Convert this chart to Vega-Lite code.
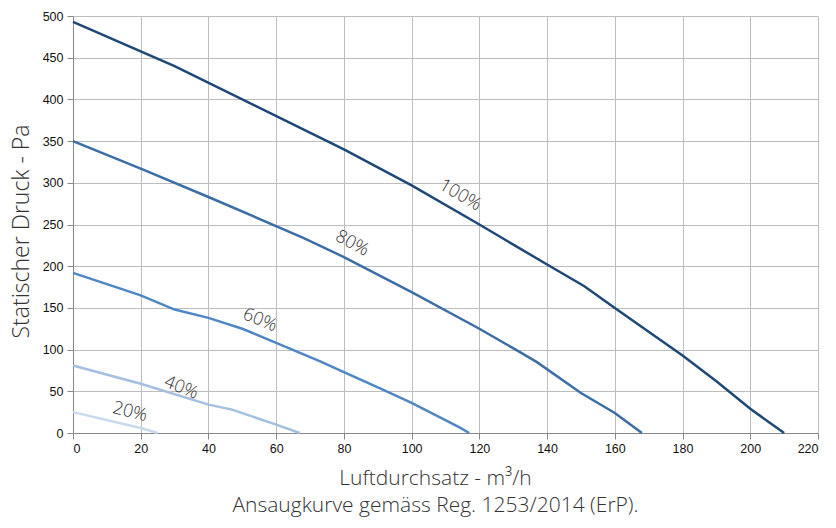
{
  "$schema": "https://vega.github.io/schema/vega-lite/v6.json",
  "width": 745,
  "height": 417,
  "autosize": "none",
  "padding": {"left": 73, "top": 16, "right": 18, "bottom": 95},
  "background": "white",
  "config": {"view": {"stroke": null}},
  "datasets": {
    "curves": [
      {"series": "100%", "x": 0, "y": 493},
      {"series": "100%", "x": 30, "y": 440},
      {"series": "100%", "x": 80, "y": 340},
      {"series": "100%", "x": 100, "y": 297},
      {"series": "100%", "x": 120, "y": 250},
      {"series": "100%", "x": 140, "y": 202},
      {"series": "100%", "x": 151, "y": 176},
      {"series": "100%", "x": 160, "y": 150},
      {"series": "100%", "x": 180, "y": 93},
      {"series": "100%", "x": 190, "y": 62},
      {"series": "100%", "x": 200, "y": 29},
      {"series": "100%", "x": 210, "y": 0},
      {"series": "80%", "x": 0, "y": 350},
      {"series": "80%", "x": 20, "y": 317},
      {"series": "80%", "x": 40, "y": 283},
      {"series": "80%", "x": 68, "y": 234},
      {"series": "80%", "x": 80, "y": 211},
      {"series": "80%", "x": 100, "y": 169},
      {"series": "80%", "x": 120, "y": 125},
      {"series": "80%", "x": 132, "y": 97},
      {"series": "80%", "x": 137, "y": 85},
      {"series": "80%", "x": 150, "y": 48},
      {"series": "80%", "x": 160, "y": 24},
      {"series": "80%", "x": 168, "y": 0},
      {"series": "60%", "x": 0, "y": 192},
      {"series": "60%", "x": 20, "y": 165},
      {"series": "60%", "x": 30, "y": 148},
      {"series": "60%", "x": 40, "y": 138},
      {"series": "60%", "x": 50, "y": 125},
      {"series": "60%", "x": 60, "y": 108},
      {"series": "60%", "x": 73, "y": 86},
      {"series": "60%", "x": 80, "y": 73},
      {"series": "60%", "x": 91, "y": 53},
      {"series": "60%", "x": 100, "y": 36},
      {"series": "60%", "x": 114, "y": 7},
      {"series": "60%", "x": 117, "y": 0},
      {"series": "40%", "x": 0, "y": 81},
      {"series": "40%", "x": 20, "y": 59},
      {"series": "40%", "x": 40, "y": 34},
      {"series": "40%", "x": 47, "y": 28},
      {"series": "40%", "x": 60, "y": 10},
      {"series": "40%", "x": 67, "y": 0},
      {"series": "20%", "x": 0, "y": 25},
      {"series": "20%", "x": 20, "y": 6},
      {"series": "20%", "x": 25, "y": 0}
    ],
    "labels": [
      {"label": "100%", "x": 114.3, "y": 285},
      {"label": "80%", "x": 82.4, "y": 227},
      {"label": "60%", "x": 55.2, "y": 135},
      {"label": "40%", "x": 31.9, "y": 54},
      {"label": "20%", "x": 16.8, "y": 25}
    ]
  },
  "encoding": {
    "x": {
      "field": "x", "type": "quantitative",
      "scale": {"domain": [0, 220], "nice": false, "zero": false},
      "axis": {
        "values": [0, 20, 40, 60, 80, 100, 120, 140, 160, 180, 200, 220],
        "grid": true, "gridColor": "#bdbdbd", "gridWidth": 1,
        "domainColor": "#888888", "tickColor": "#888888", "tickSize": 6,
        "labelFont": "Liberation Sans", "labelFontSize": 12.5, "labelColor": "#111111", "labelPadding": 3,
        "title": ["Luftdurchsatz - m³/h", "Ansaugkurve gemäss Reg. 1253/2014 (ErP)."],
        "titleFont": "Open Sans", "titleFontWeight": 300, "titleFontSize": 21, "titleColor": "#333333",
        "titleLineHeight": 27, "titlePadding": 13, "titleX": 362
      }
    },
    "y": {
      "field": "y", "type": "quantitative",
      "scale": {"domain": [0, 500], "nice": false},
      "axis": {
        "values": [0, 50, 100, 150, 200, 250, 300, 350, 400, 450, 500],
        "grid": true, "gridColor": "#bdbdbd", "gridWidth": 1,
        "domainColor": "#888888", "tickColor": "#888888", "tickSize": 6,
        "labelFont": "Liberation Sans", "labelFontSize": 12.5, "labelColor": "#111111", "labelPadding": 4,
        "title": "Statischer Druck - Pa",
        "titleFont": "Open Sans", "titleFontWeight": 300, "titleFontSize": 23, "titleColor": "#333333",
        "titlePadding": 9, "titleY": 215
      }
    }
  },
  "layer": [
    {
      "data": {"name": "curves"},
      "mark": {"type": "line", "strokeWidth": 2.5},
      "encoding": {
        "color": {
          "field": "series", "type": "nominal", "legend": null,
          "scale": {"domain": ["100%", "80%", "60%", "40%", "20%"], "range": ["#1d4877", "#3b6ea6", "#4f87c6", "#a3bfe1", "#c8d9ef"]}
        },
        "detail": {"field": "series"}
      }
    },
    {
      "data": {"name": "labels"},
      "transform": [{"filter": "datum.label === '100%'"}],
      "mark": {"type": "text", "angle": 30, "font": "Open Sans", "fontWeight": 300, "fontSize": 18, "color": "#333333"},
      "encoding": {"text": {"field": "label"}}
    },
    {
      "data": {"name": "labels"},
      "transform": [{"filter": "datum.label === '80%'"}],
      "mark": {"type": "text", "angle": 28, "font": "Open Sans", "fontWeight": 300, "fontSize": 18, "color": "#333333"},
      "encoding": {"text": {"field": "label"}}
    },
    {
      "data": {"name": "labels"},
      "transform": [{"filter": "datum.label === '60%'"}],
      "mark": {"type": "text", "angle": 22, "font": "Open Sans", "fontWeight": 300, "fontSize": 18, "color": "#333333"},
      "encoding": {"text": {"field": "label"}}
    },
    {
      "data": {"name": "labels"},
      "transform": [{"filter": "datum.label === '40%'"}],
      "mark": {"type": "text", "angle": 22, "font": "Open Sans", "fontWeight": 300, "fontSize": 18, "color": "#333333"},
      "encoding": {"text": {"field": "label"}}
    },
    {
      "data": {"name": "labels"},
      "transform": [{"filter": "datum.label === '20%'"}],
      "mark": {"type": "text", "angle": 14, "font": "Open Sans", "fontWeight": 300, "fontSize": 18, "color": "#333333"},
      "encoding": {"text": {"field": "label"}}
    }
  ]
}
